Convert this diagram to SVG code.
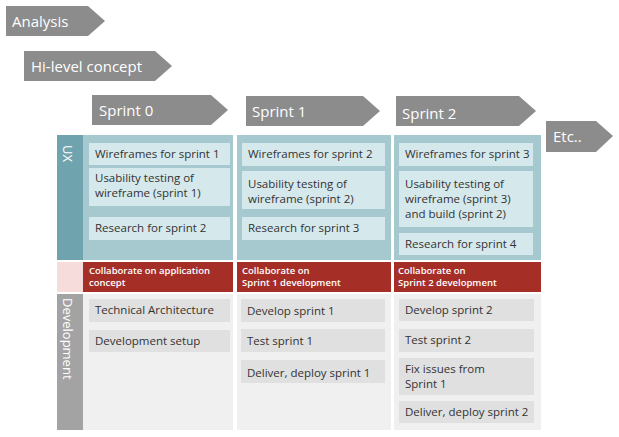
<svg xmlns="http://www.w3.org/2000/svg" width="619" height="437" viewBox="0 0 619 437">
<style>
text{font-family:"Open Sans","Liberation Sans",sans-serif;}
.ph{fill:#8c8c8c}
.pt{fill:#fff;font-size:15px}
.ux{fill:#d5e8ec}
.dv{fill:#e0e0e0}
.ct{fill:#333;font-size:11.5px}
.rt{fill:#fff;font-size:9.5px;font-weight:600}
</style>
<rect width="619" height="437" fill="#fff"/>
<g id="phases">
<g id="analysis"><polygon class="ph" points="6,6 88,6 105,21 88,36 6,36"/><text class="pt" x="12" y="27">Analysis</text></g>
<g id="hilevel"><polygon class="ph" points="24,51 155,51 172,66 155,81 24,81"/><text class="pt" x="31" y="72">Hi-level concept</text></g>
<g id="sprint0h"><polygon class="ph" points="92,95 211,95 228,110 211,125 92,125"/><text class="pt" x="99" y="116">Sprint 0</text></g>
<g id="sprint1h"><polygon class="ph" points="246,96 363,96 380,111 363,126 246,126"/><text class="pt" x="252" y="117">Sprint 1</text></g>
<g id="sprint2h"><polygon class="ph" points="396,96 519,96 536,111 519,126 396,126"/><text class="pt" x="402" y="119">Sprint 2</text></g>
<g id="etc"><polygon class="ph" points="546,121 596,121 613,136 596,152 546,152"/><text class="pt" x="553" y="142">Etc..</text></g>
</g>
<g id="lanes">
<rect x="57" y="135" width="26" height="125" fill="#6fa3ad"/>
<text x="63" y="145" fill="#fff" font-size="13" transform="rotate(90 63 145)">UX</text>
<rect x="57" y="262" width="26" height="30" fill="#f6dcdb"/>
<rect x="57" y="294" width="26" height="136" fill="#a3a3a3"/>
<text x="63" y="298" fill="#fff" font-size="13" transform="rotate(90 63 298)">Development</text>
</g>
<g id="columns">
<rect x="83" y="135" width="150" height="125" fill="#a6c9d0"/>
<rect x="237" y="135" width="154" height="125" fill="#a6c9d0"/>
<rect x="394" y="135" width="147" height="125" fill="#a6c9d0"/>
<rect x="83" y="262" width="150" height="30" fill="#a52f27"/>
<rect x="237" y="262" width="154" height="30" fill="#a52f27"/>
<rect x="394" y="262" width="147" height="30" fill="#a52f27"/>
<rect x="83" y="294" width="150" height="136" fill="#f0f0f0"/>
<rect x="237" y="294" width="154" height="136" fill="#f0f0f0"/>
<rect x="394" y="294" width="147" height="136" fill="#f0f0f0"/>
<text class="rt" x="89" y="274">Collaborate on application</text><text class="rt" x="89" y="286">concept</text>
<text class="rt" x="242" y="274">Collaborate on</text><text class="rt" x="242" y="286">Sprint 1 development</text>
<text class="rt" x="398" y="274">Collaborate on</text><text class="rt" x="398" y="286">Sprint 2 development</text>
</g>
<g id="s0ux">
<rect class="ux" x="89" y="143" width="141" height="22"/><text class="ct" x="95" y="158">Wireframes for sprint 1</text>
<rect class="ux" x="89" y="168" width="141" height="38"/><text class="ct" x="95" y="182">Usability testing of</text><text class="ct" x="95" y="197">wireframe (sprint 1)</text>
<rect class="ux" x="89" y="217" width="141" height="23"/><text class="ct" x="95" y="232">Research for sprint 2</text>
</g>
<g id="s1ux">
<rect class="ux" x="242" y="143" width="143" height="23"/><text class="ct" x="248" y="158">Wireframes for sprint 2</text>
<rect class="ux" x="242" y="171" width="143" height="38"/><text class="ct" x="248" y="188">Usability testing of</text><text class="ct" x="248" y="203">wireframe (sprint 2)</text>
<rect class="ux" x="242" y="217" width="143" height="23"/><text class="ct" x="248" y="232">Research for sprint 3</text>
</g>
<g id="s2ux">
<rect class="ux" x="399" y="143" width="134" height="23"/><text class="ct" x="405" y="158">Wireframes for sprint 3</text>
<rect class="ux" x="399" y="171" width="134" height="56"/><text class="ct" x="405" y="188">Usability testing of</text><text class="ct" x="405" y="203">wireframe (sprint 3)</text><text class="ct" x="405" y="218">and build (sprint 2)</text>
<rect class="ux" x="399" y="233" width="134" height="22"/><text class="ct" x="405" y="248">Research for sprint 4</text>
</g>
<g id="s0dev">
<rect class="dv" x="89" y="299" width="141" height="23"/><text class="ct" x="95" y="314">Technical Architecture</text>
<rect class="dv" x="89" y="330" width="141" height="22"/><text class="ct" x="95" y="345">Development setup</text>
</g>
<g id="s1dev">
<rect class="dv" x="241" y="299" width="144" height="23"/><text class="ct" x="247" y="315">Develop sprint 1</text>
<rect class="dv" x="241" y="329" width="144" height="23"/><text class="ct" x="247" y="345">Test sprint 1</text>
<rect class="dv" x="241" y="360" width="144" height="23"/><text class="ct" x="247" y="377">Deliver, deploy sprint 1</text>
</g>
<g id="s2dev">
<rect class="dv" x="399" y="299" width="135" height="22"/><text class="ct" x="405" y="314">Develop sprint 2</text>
<rect class="dv" x="399" y="329" width="135" height="23"/><text class="ct" x="405" y="344">Test sprint 2</text>
<rect class="dv" x="399" y="358" width="135" height="37"/><text class="ct" x="405" y="373">Fix issues from</text><text class="ct" x="405" y="388">Sprint 1</text>
<rect class="dv" x="399" y="401" width="135" height="22"/><text class="ct" x="405" y="416">Deliver, deploy sprint 2</text>
</g>
<g id="connectors"/>
</svg>
